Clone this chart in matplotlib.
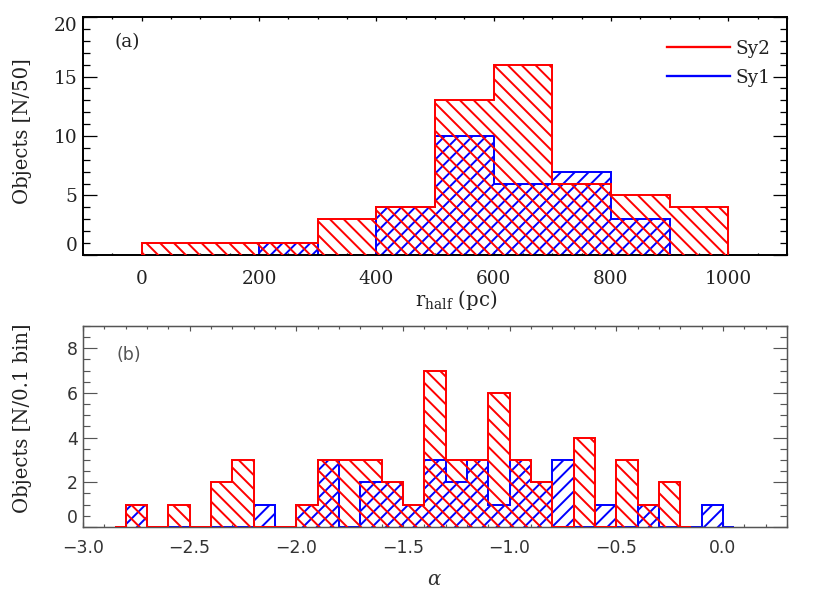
import numpy as np
import matplotlib
matplotlib.use('Agg')
import matplotlib.pyplot as plt
from matplotlib.lines import Line2D
from matplotlib.ticker import MultipleLocator, FixedLocator

# ---------------- data ----------------
# Panel (a): r_half histogram (bins of 100 pc)
r_edges = [0, 100, 200, 300, 400, 500, 600, 700, 800, 900, 1000]
r_sy2 = [1, 1, 1, 3, 4, 13, 16, 6, 5, 4]
r_sy1 = [0, 0, 1, 0, 4, 10, 6, 7, 3, 0]

# Panel (b): alpha histogram (bins of 0.1)
alpha_edges = [-2.8, -2.7, -2.6, -2.5, -2.4, -2.3, -2.2, -2.1, -2.0, -1.9,
               -1.8, -1.7, -1.6, -1.5, -1.4, -1.3, -1.2, -1.1, -1.0, -0.9,
               -0.8, -0.7, -0.6, -0.5, -0.4, -0.3, -0.2, -0.1, 0.0]
alpha_sy2 = [1, 0, 1, 0, 2, 3, 0, 0, 1, 3, 3, 3, 2, 1, 7, 3, 3, 6, 3, 2,
             0, 4, 0, 3, 1, 2]
alpha_sy1 = [1, 0, 0, 0, 0, 0, 1, 0, 1, 3, 0, 2, 2, 1, 3, 2, 3, 1, 3, 2,
             3, 0, 1, 0, 1, 0, 0, 1]
half_bin = 0.05

labels = ['Sy2', 'Sy1']
RED = '#ff0000'
BLUE = '#0000ff'

plt.rcParams['hatch.linewidth'] = 1.7
plt.rcParams['mathtext.fontset'] = 'dejavuserif'

DPI = 83
fig = plt.figure(figsize=(830 / DPI, 593 / DPI), dpi=DPI)
axa = fig.add_axes([0.100, 0.570, 0.848, 0.4013])
axb = fig.add_axes([0.100, 0.1113, 0.848, 0.3390])

# ---------------- panel (a) ----------------
axa.stairs(r_sy1, r_edges, fill=True, facecolor='none', edgecolor=BLUE,
           hatch='//', linewidth=1.7, zorder=2)
axa.stairs(r_sy2, r_edges, fill=True, facecolor='none', edgecolor=RED,
           hatch='\\\\', linewidth=1.7, zorder=3)
axa.set_xlim(-100, 1100)
axa.set_ylim(0, 20)
axa.xaxis.set_major_locator(FixedLocator([0, 200, 400, 600, 800, 1000]))
axa.xaxis.set_minor_locator(MultipleLocator(50))
axa.yaxis.set_major_locator(FixedLocator([0, 5, 10, 15, 20]))
axa.yaxis.set_minor_locator(MultipleLocator(1))
for sp in axa.spines.values():
    sp.set_linewidth(1.7)
    sp.set_color('black')
axa.tick_params(which='both', direction='in', top=True, right=True,
                width=1.1, color='black')
axa.tick_params(axis='x', which='major', length=3.5, pad=13)
axa.tick_params(axis='x', which='minor', length=2.0)
axa.tick_params(axis='y', which='major', length=12, pad=5)
axa.tick_params(axis='y', which='minor', length=6)
for lab in axa.get_xticklabels() + axa.get_yticklabels():
    lab.set_fontfamily('DejaVu Serif')
    lab.set_fontsize(16)
    lab.set_color('#222222')
yt = axa.yaxis.get_major_ticks()
yt[0].label1.set_va('bottom')
yt[-1].label1.set_va('top')

axa.set_ylabel('Objects [N/50]', fontfamily='DejaVu Serif', fontsize=17,
               color='#222222')
axa.yaxis.set_label_coords(-0.072, 0.52)
axa.set_xlabel(r'$\mathrm{r_{half}}$ (pc)', fontfamily='DejaVu Serif',
               fontsize=17, color='#222222')
axa.xaxis.set_label_coords(0.53, -0.140)
axa.text(0.0625, 0.895, '(a)', transform=axa.transAxes, ha='center',
         va='center', fontfamily='DejaVu Serif', fontsize=16, color='#222222')

handles = [Line2D([], [], color=RED, lw=2), Line2D([], [], color=BLUE, lw=2)]
leg = axa.legend(handles, labels, loc='upper right',
                 bbox_to_anchor=(0.977, 0.905), frameon=False,
                 prop={'family': 'DejaVu Serif', 'size': 16},
                 handlelength=3.4, handletextpad=0.3, labelspacing=0.6,
                 borderpad=0, borderaxespad=0)
for t in leg.get_texts():
    t.set_color('#222222')

# ---------------- panel (b) ----------------
def padded(edges, values):
    e = [edges[0] - half_bin] + list(edges[:len(values) + 1]) + \
        [edges[len(values)] + half_bin]
    v = [0] + list(values) + [0]
    return e, v

e1, v1 = padded(alpha_edges, alpha_sy1)
e2, v2 = padded(alpha_edges, alpha_sy2)
axb.stairs(v1, e1, fill=True, facecolor='none', edgecolor=BLUE,
           hatch='//', linewidth=1.7, zorder=2)
axb.stairs(v2, e2, fill=True, facecolor='none', edgecolor=RED,
           hatch='\\\\', linewidth=1.7, zorder=3)
axb.set_xlim(-3.0, 0.3)
axb.set_ylim(0, 9)
axb.xaxis.set_major_locator(FixedLocator([-3.0, -2.5, -2.0, -1.5, -1.0, -0.5, 0.0]))
axb.xaxis.set_minor_locator(MultipleLocator(0.1))
axb.yaxis.set_major_locator(FixedLocator([0, 2, 4, 6, 8]))
axb.yaxis.set_minor_locator(MultipleLocator(0.5))
axb.xaxis.set_major_formatter(plt.FuncFormatter(lambda x, p: f'{x:.1f}'.replace('-', '\u2212')))
for sp in axb.spines.values():
    sp.set_linewidth(1.3)
    sp.set_color('#555555')
axb.tick_params(which='both', direction='in', top=True, right=True,
                width=1.0, color='#555555')
axb.tick_params(axis='x', which='major', length=4.5, pad=10)
axb.tick_params(axis='x', which='minor', length=2.2)
axb.tick_params(axis='y', which='major', length=12, pad=4.5)
axb.tick_params(axis='y', which='minor', length=6.5)
for lab in axb.get_xticklabels() + axb.get_yticklabels():
    lab.set_fontfamily('DejaVu Sans')
    lab.set_fontsize(15)
    lab.set_color('#333333')
ybt = axb.yaxis.get_major_ticks()
ybt[0].label1.set_va('bottom')

axb.set_ylabel('Objects [N/0.1 bin]', fontfamily='DejaVu Serif', fontsize=17,
               color='#222222')
axb.yaxis.set_label_coords(-0.072, 0.54)
axb.set_xlabel(r'$\alpha$', fontsize=17, color='#333333')
axb.xaxis.set_label_coords(0.5, -0.215)
axb.text(0.065, 0.856, '(b)', transform=axb.transAxes, ha='center',
         va='center', fontfamily='DejaVu Sans', fontsize=15, color='#555555')

fig.savefig('out.png', dpi=DPI)
